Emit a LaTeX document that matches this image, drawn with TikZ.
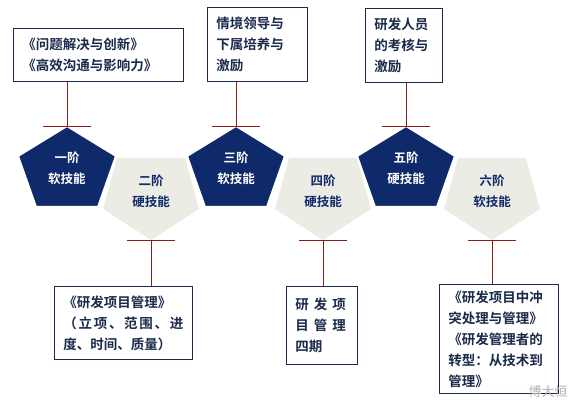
\documentclass[tikz,border=0pt]{standalone}
\usepackage{fontspec}
\setmainfont{Noto Sans CJK SC}[BoldFont={Noto Sans CJK SC Bold}]
\usetikzlibrary{calc}
\definecolor{StageNavy}{HTML}{0F2A6A}
\definecolor{StageSand}{HTML}{ECEBE4}
\definecolor{LinkRed}{HTML}{8C1C1C}
\definecolor{InkBlue}{HTML}{1B2A4A}

\begin{document}
\begin{tikzpicture}[x=1pt,y=-1pt,
    card/.style={draw=InkBlue,line width=0.8pt,anchor=north west,inner xsep=9pt,inner ysep=0pt,
      align=left,text=InkBlue,font=\fontsize{13.5}{21}\selectfont\bfseries},
    stagetext/.style={align=center,font=\fontsize{12.5}{21}\selectfont\bfseries},
    link/.style={draw=LinkRed,line width=0.8pt}]
  \useasboundingbox (0,0) rectangle (574,403);
  \foreach \i/\cx/\up/\dn in {2/151/二阶/硬技能,4/323/四阶/硬技能,6/492/六阶/软技能}
  {
    \fill[StageSand] (\cx-34,158) -- (\cx+34,158) -- (\cx+48,209) -- (\cx,240) -- (\cx-48,209) -- cycle;
    \node[stagetext,text=StageNavy] (stage\i) at (\cx,191) {\up\\\dn};
    \coordinate (tip\i) at (\cx,240);
  }
  \foreach \i/\cx/\up/\dn in {1/67/一阶/软技能,3/236/三阶/软技能,5/406/五阶/硬技能}
  {
    \filldraw[fill=StageNavy,draw=white,line width=2pt,line join=round]
      (\cx,126) -- (\cx+49,156) -- (\cx+31,207) -- (\cx-31,207) -- (\cx-49,156) -- cycle;
    \node[stagetext,text=white] (stage\i) at (\cx,168) {\up\\\dn};
    \coordinate (tip\i) at (\cx,126.5);
  }
  \node[card,minimum width=170pt,minimum height=53pt,text width=152pt] (box1) at (13,28)
    {《问题解决与创新》\\《高效沟通与影响力》};
  \node[card,minimum width=100pt,minimum height=74pt,text width=82pt] (box3) at (207,7)
    {情境领导与\\下属培养与\\激励};
  \node[card,minimum width=77pt,minimum height=74pt,text width=59pt] (box5) at (365,8)
    {研发人员\\的考核与\\激励};
  \node[card,minimum width=138pt,minimum height=73pt,text width=120pt] (box2) at (54,286)
    {《研发项目管理》\\\makebox[120pt][s]{（\hfil 立\hfil 项\hfil 、\hfil 范\hfil 围\hfil 、\hfil 进}\\度、时间、质量）};
  \node[card,minimum width=71pt,minimum height=78pt,text width=53pt] (box4) at (286,286)
    {研\hspace{5pt}发\hspace{5pt}项\\目\hspace{5pt}管\hspace{5pt}理\\四期};
  \node[card,minimum width=119pt,minimum height=109pt,text width=101pt] (box6) at (439,284)
    {《研发项目中冲\\突处理与管理》\\《研发管理者的\\转型：从技术到\\管理》};
  \foreach \i/\b in {1/box1,3/box3,5/box5}
  {
    \draw[link] (\b.south -| tip\i) -- (tip\i);
    \draw[link] ([xshift=-24pt]tip\i) -- ([xshift=24pt]tip\i);
  }
  \foreach \i/\b in {2/box2,4/box4,6/box6}
  {
    \draw[link] (tip\i) -- (\b.north -| tip\i);
    \draw[link] ([xshift=-24pt]tip\i) -- ([xshift=24pt]tip\i);
  }
  \node[text=black!30,font=\fontsize{13}{13}\selectfont] (mark) at (548,392) {博大恒};
\end{tikzpicture}
\end{document}
